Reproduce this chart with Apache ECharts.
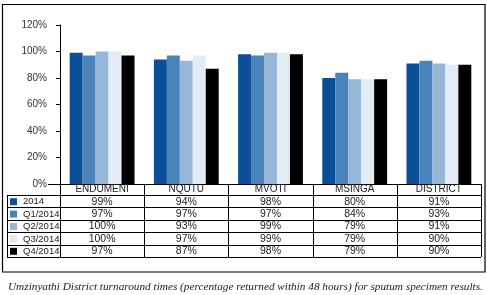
<!DOCTYPE html>
<html lang="en">
<head>
	<meta charset="UTF-8">
	<title>Umzinyathi turnaround</title>
	<style>
		body, div {
			margin: 0;
			padding: 0;
		}
		#main {
			width: 487px;
			height: 295px;
			background: #fff;
		}
	</style>
</head>
<body>
	<div id="main"></div>
	<script src="https://cdn.jsdelivr.net/npm/echarts@6/dist/echarts.min.js"></script>
	<script>
    // data
    var categories = ['ENDUMENI', 'NQUTU', 'MVOTI', 'MSINGA', 'DISTRICT'];
    var seriesNames = ['2014', 'Q1/2014', 'Q2/2014', 'Q3/2014', 'Q4/2014'];
    var v2014 = [99, 94, 98, 80, 91];
    var vQ1 = [97, 97, 97, 84, 93];
    var vQ2 = [100, 93, 99, 79, 91];
    var vQ3 = [100, 97, 99, 79, 90];
    var vQ4 = [97, 87, 98, 79, 90];
    var yTicks = [0, 20, 40, 60, 80, 100, 120];
    var caption = 'Umzinyathi District turnaround times (percentage returned within 48 hours) for sputum specimen results.';

    var values = [v2014, vQ1, vQ2, vQ3, vQ4];
    var colors = ['#0a4f97', '#4a83ba', '#96b7d7', '#e3ecf5', '#000000'];
    var font = "'Liberation Sans Narrow', 'Liberation Sans', sans-serif";

    // grid / table layout
    var gl = 60, gr = 481, gt = 25, gb = 184;
    var colW = (gr - gl) / categories.length;
    var rowTop = 195, rowH = 12.4, legL = 7;

    var graphics = [];
    function line(x1, y1, x2, y2, w) {
        graphics.push({ type: 'line', silent: true,
            shape: { x1: x1, y1: y1, x2: x2, y2: y2 },
            style: { stroke: '#000', lineWidth: w || 1 } });
    }
    // outer frame
    graphics.push({ type: 'rect', silent: true,
        shape: { x: 2.5, y: 4.5, width: 482.5, height: 267.5 },
        style: { fill: null, stroke: '#000', lineWidth: 1.2 } });
    // axis stub left of zero
    line(48, gb + 0.5, gl, gb + 0.5);
    // column borders
    for (var i = 0; i <= categories.length; i++) {
        var x = Math.round(gl + i * colW) + 0.5;
        line(x, gb, x, rowTop + 5 * rowH);
    }
    // row borders
    for (var r = 0; r <= seriesNames.length; r++) {
        var y = Math.round(rowTop + r * rowH) + 0.5;
        line(legL, y, gr, y);
    }
    line(legL + 0.5, rowTop, legL + 0.5, rowTop + 5 * rowH);
    // legend cells and values
    seriesNames.forEach(function (name, s) {
        var cy = rowTop + (s + 0.5) * rowH + 0.5;
        graphics.push({ type: 'rect', silent: true,
            shape: { x: 10, y: cy - 3.5, width: 7, height: 7 },
            style: { fill: colors[s], stroke: s === 3 ? '#e3ecf5' : null } });
        graphics.push({ type: 'text', silent: true, x: 23, y: cy,
            style: { text: name, font: '9.5px ' + font, fill: '#222', verticalAlign: 'middle' } });
        values[s].forEach(function (v, c) {
            graphics.push({ type: 'text', silent: true,
                x: gl + (c + 0.5) * colW, y: cy,
                style: { text: v + '%', font: '10.5px ' + font, fill: '#222',
                    align: 'center', verticalAlign: 'middle' } });
        });
    });

    var myEcharts = echarts.init(document.getElementById('main'));

    var options = {
        animation: false,
        title: {
            text: caption,
            left: 3,
            top: 277,
            textStyle: { fontFamily: "'Liberation Serif', serif", fontStyle: 'italic',
                fontWeight: 'normal', fontSize: 11.25, color: '#222' }
        },
        grid: { left: gl, right: 487 - gr, top: gt, bottom: 295 - gb },
        xAxis: {
            type: 'category',
            data: categories,
            axisLine: { lineStyle: { color: '#000', width: 1 } },
            axisTick: { show: false },
            axisLabel: { margin: 0, fontFamily: font, fontSize: 10, lineHeight: 11, color: '#222' }
        },
        yAxis: {
            type: 'value',
            min: yTicks[0],
            max: yTicks[yTicks.length - 1],
            interval: 20,
            axisLine: { show: true, lineStyle: { color: '#000', width: 1 } },
            axisTick: { show: true, length: 4, lineStyle: { color: '#000' } },
            splitLine: { show: false },
            axisLabel: { margin: 13, fontFamily: "'Liberation Sans', sans-serif",
                fontSize: 10, color: '#333', formatter: '{value}%' }
        },
        series: seriesNames.map(function (name, s) {
            return {
                name: name,
                type: 'bar',
                data: values[s],
                barGap: '0%',
                barCategoryGap: '23%',
                itemStyle: { color: colors[s] }
            };
        }),
        graphic: graphics
    };

    myEcharts.setOption(options);
	</script>
</body>
</html>
